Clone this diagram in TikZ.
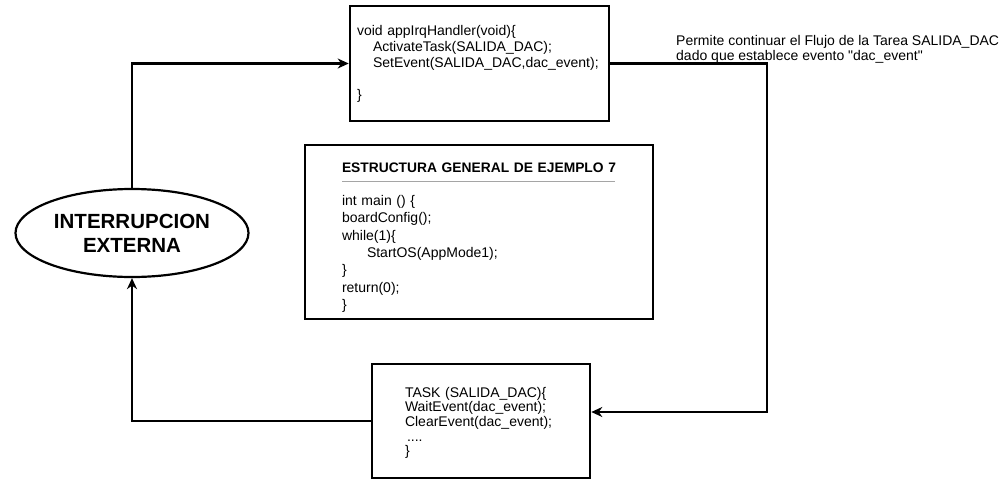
\documentclass[tikz,border=0pt]{standalone}
\usepackage{fontspec}
\setmainfont{Liberation Sans}
\usetikzlibrary{shapes.geometric, arrows.meta}

\begin{document}
\begin{tikzpicture}[x=1pt, y=-1pt,
  caja/.style={draw, line width=2.6pt, align=left, inner ysep=0pt},
  flecha/.style={line width=2.2pt, -{Stealth[length=11pt, width=10pt, inset=3.5pt]}}]

\def\sangria{16pt}
\definecolor{grisclaro}{RGB}{165,165,165}
\useasboundingbox (0,0) rectangle (1002,485);

\node[draw, ellipse, line width=2.2pt, minimum width=233pt, minimum height=88pt, inner sep=0pt, align=center, font=\bfseries\fontsize{20.5}{24}\selectfont] (irq) at (132,233) {INTERRUPCION\\EXTERNA};

\node[caja, minimum width=259pt, minimum height=115pt, text width=245pt, inner xsep=7pt, font=\fontsize{14}{16}\selectfont] (handler) at (479.5,63.5) {void appIrqHandler(void)\{\\
\hspace*{\sangria}ActivateTask(SALIDA\_DAC);\\
\hspace*{\sangria}SetEvent(SALIDA\_DAC,dac\_event);\\[16pt]
\}};

\node[caja, minimum width=348pt, minimum height=174pt, text width=274pt, inner xsep=37pt, font=\fontsize{14}{17.3}\selectfont] (estructura) at (479,232) {\rule{0pt}{21pt}\mbox{\fontsize{13.8}{17.3}\selectfont\bfseries ESTRUCTURA GENERAL DE EJEMPLO 7}\\[15.7pt]
int main () \{\\
boardConfig();\\
while(1)\{\\
\hspace*{25pt}StartOS(AppMode1);\\
\}\\
return(0);\\
\}};
\draw[grisclaro, line width=1pt] (342,181) -- (615,181);

\node[caja, minimum width=218pt, minimum height=114pt, text width=152pt, inner xsep=33pt, font=\fontsize{14}{14.6}\selectfont] (tarea) at (481,421) {\rule{0pt}{14pt}TASK (SALIDA\_DAC)\{\\
WaitEvent(dac\_event);\\
ClearEvent(dac\_event);\\
\hspace*{2pt}....\\
\}};

\node[anchor=north west, inner sep=0pt, align=left, font=\fontsize{14}{14.3}\selectfont] (nota) at (676,35.5) {Permite continuar el Flujo de la Tarea SALIDA\_DAC\\
dado que establece evento \textquotedbl dac\_event\textquotedbl};

\coordinate (esquina) at (767,412);

\draw[flecha] (irq.north) |- (handler.west);
\draw[flecha] (handler.east) -| (esquina) -- (esquina -| tarea.east);
\draw[flecha] (tarea.west) -| (irq.south);

\end{tikzpicture}
\end{document}
